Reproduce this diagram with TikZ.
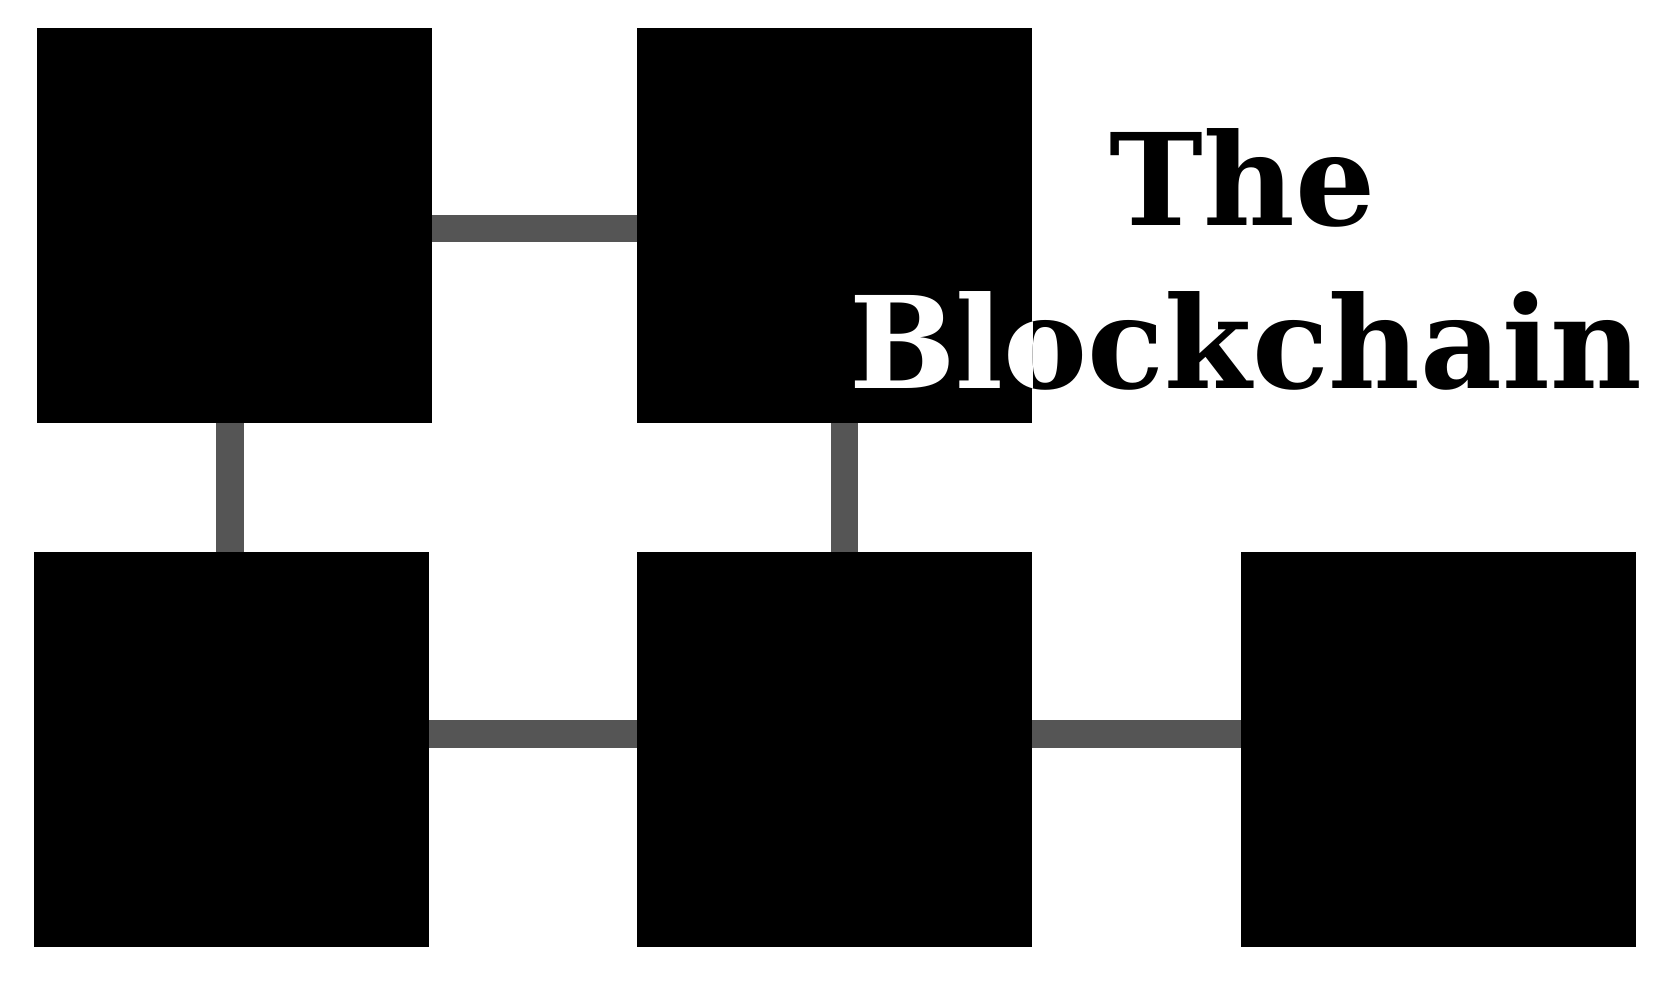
\documentclass[tikz,border=0pt]{standalone}
\usepackage{fontspec}
\usepackage{xcolor}
\usepackage{tikz}
\usetikzlibrary{positioning}

\newfontfamily\titlefont{DejaVu Serif}
\definecolor{linkgray}{HTML}{555555}

\begin{document}
\begin{tikzpicture}[
x=0.01cm, y=-0.01cm,
node distance=2.05cm,
block/.style={fill=black, minimum width=3.95cm, minimum height=3.95cm, inner sep=0pt, outer sep=0pt},
link/.style={draw=linkgray, line width=0.273cm},
heading/.style={font=\titlefont\bfseries\fontsize{36.3}{46}\selectfont, inner sep=0pt, anchor=base, xscale=0.988}
]
\useasboundingbox (0,0) rectangle (1675,986);

\node[block] (a) at (234.5,225.5) {};
\node[block, right=of a] (b) {};
\node[block, below=1.29cm of b] (d) {};
\node[block, left=2.08cm of d] (c) {};
\node[block, right=2.08cm of d] (e) {};

\draw[link] ([yshift=-0.028cm]a.east) -- ([yshift=-0.028cm]b.west);
\draw[link] ([xshift=-0.045cm]a.south) -- ([xshift=-0.015cm]c.north);
\draw[link] ([xshift=0.095cm]b.south) -- ([xshift=0.095cm]d.north);
\draw[link] ([yshift=0.157cm]c.east) -- ([yshift=0.157cm]d.west);
\draw[link] ([yshift=0.157cm]d.east) -- ([yshift=0.157cm]e.west);

% title, white where it lies on block b
\node[heading] (the) at (1242.5,226) {The};
\node[heading] (chain) at (1245.5,389) {Blockchain};
\begin{scope}
\clip (b.north west) rectangle (b.south east);
\node[heading, white] (chainw) at (chain.base) {Blockchain};
\end{scope}

\end{tikzpicture}
\end{document}
